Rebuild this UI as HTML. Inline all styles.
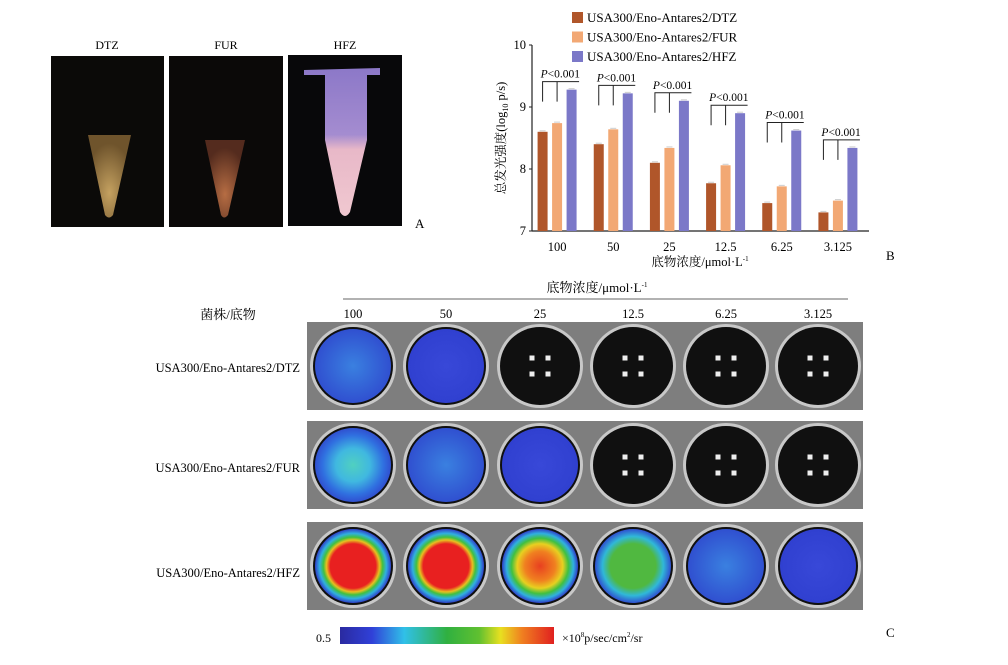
<!DOCTYPE html>
<html><head><meta charset="utf-8"><style>
body{margin:0;background:#fff;width:1008px;height:660px;overflow:hidden;font-family:"Liberation Serif","Noto Serif CJK SC",serif}
svg text{font-family:"Liberation Serif","Noto Serif CJK SC",serif}
</style></head><body>
<svg id="fig" width="1008" height="660" viewBox="0 0 1008 660">
<defs>
<radialGradient id="gD" cx="50%" cy="70%" r="60%"><stop offset="0" stop-color="#d9b26a"/><stop offset="1" stop-color="#7a5c30"/></radialGradient>
<radialGradient id="gF" cx="50%" cy="70%" r="60%"><stop offset="0" stop-color="#c9784a"/><stop offset="1" stop-color="#5c2f20"/></radialGradient>
<linearGradient id="gH" x1="0" y1="0" x2="0" y2="1"><stop offset="0" stop-color="#8c78c8"/><stop offset="0.45" stop-color="#a48cd0"/><stop offset="0.55" stop-color="#e8b8c8"/><stop offset="1" stop-color="#f0c8d0"/></linearGradient>
<linearGradient id="cbar" x1="0" y1="0" x2="1" y2="0"><stop offset="0" stop-color="#2a2aa0"/><stop offset="0.15" stop-color="#3040d8"/><stop offset="0.3" stop-color="#30c0e8"/><stop offset="0.5" stop-color="#30b040"/><stop offset="0.65" stop-color="#60c030"/><stop offset="0.75" stop-color="#e8e020"/><stop offset="0.85" stop-color="#f08020"/><stop offset="1" stop-color="#e02020"/></linearGradient>
<radialGradient id="wRed"><stop offset="0" stop-color="#e82020"/><stop offset="0.6" stop-color="#e82020"/><stop offset="0.7" stop-color="#e8c020"/><stop offset="0.78" stop-color="#40c040"/><stop offset="0.88" stop-color="#30b0e0"/><stop offset="1" stop-color="#3040c8"/></radialGradient>
<radialGradient id="wOr"><stop offset="0" stop-color="#e84020"/><stop offset="0.4" stop-color="#f08020"/><stop offset="0.6" stop-color="#e8d020"/><stop offset="0.75" stop-color="#40c040"/><stop offset="0.88" stop-color="#30b0e0"/><stop offset="1" stop-color="#3040c8"/></radialGradient>
<radialGradient id="wGr"><stop offset="0" stop-color="#50b840"/><stop offset="0.6" stop-color="#50b840"/><stop offset="0.8" stop-color="#30b8d8"/><stop offset="1" stop-color="#3050d0"/></radialGradient>
<radialGradient id="wCy"><stop offset="0" stop-color="#50d0c0"/><stop offset="0.45" stop-color="#40b8e0"/><stop offset="0.8" stop-color="#3070e0"/><stop offset="1" stop-color="#3050d0"/></radialGradient>
<radialGradient id="wLb"><stop offset="0" stop-color="#3a80e0"/><stop offset="1" stop-color="#3050d0"/></radialGradient>
<radialGradient id="wDb"><stop offset="0" stop-color="#3848d8"/><stop offset="1" stop-color="#3040d0"/></radialGradient>
</defs>

<g>
<text x="107" y="49" font-size="12" text-anchor="middle">DTZ</text>
<text x="226" y="49" font-size="12" text-anchor="middle">FUR</text>
<text x="345" y="49" font-size="12" text-anchor="middle">HFZ</text>
<rect x="51" y="56" width="113" height="171" fill="#0b0a08"/>
<path d="M88 135 L131 135 L113 215 Q109 220 105 215 Z" fill="url(#gD)" opacity="0.9"/>
<rect x="169" y="56" width="114" height="171" fill="#0b0908"/>
<path d="M205 140 L245 140 L228 215 Q224 220 221 215 Z" fill="url(#gF)" opacity="0.9"/>
<rect x="288" y="55" width="114" height="171" fill="#08080a"/>
<path d="M304 70 L380 68 L380 75 L367 75 L367 140 L350 212 Q345 220 340 212 L325 140 L325 75 L304 75 Z" fill="url(#gH)"/>
<text x="415" y="228" font-size="13">A</text>
</g>

<g id="chart"></g>
<text x="886" y="260" font-size="13">B</text>

<g id="plate">
<text x="228" y="319" font-size="13" text-anchor="middle">菌株/底物</text>
<text x="597" y="292" font-size="13" text-anchor="middle">底物浓度/μmol·L<tspan font-size="7" dy="-5">-1</tspan></text>
<line x1="343" y1="299" x2="848" y2="299" stroke="#333" stroke-width="0.8"/>
<text x="300" y="372" font-size="12.5" text-anchor="end">USA300/Eno-Antares2/DTZ</text>
<text x="300" y="472" font-size="12.5" text-anchor="end">USA300/Eno-Antares2/FUR</text>
<text x="300" y="577" font-size="12.5" text-anchor="end">USA300/Eno-Antares2/HFZ</text>
<text x="331" y="642" font-size="12" text-anchor="end">0.5</text>
<rect x="340" y="627" width="214" height="17" fill="url(#cbar)"/>
<text x="562" y="642" font-size="12">×10<tspan font-size="7" dy="-5">8</tspan><tspan dy="5">p/sec/cm</tspan><tspan font-size="7" dy="-5">2</tspan><tspan dy="5">/sr</tspan></text>
<text x="886" y="637" font-size="13">C</text>
</g>
</svg>
<script>
const NS="http://www.w3.org/2000/svg";
const categories=["100","50","25","12.5","6.25","3.125"];
const seriesNames=["USA300/Eno-Antares2/DTZ","USA300/Eno-Antares2/FUR","USA300/Eno-Antares2/HFZ"];
const dtz=[8.6,8.4,8.1,7.77,7.45,7.3];
const fur=[8.74,8.64,8.34,8.06,7.72,7.49];
const hfz=[9.28,9.22,9.1,8.9,8.62,8.34];
const yTicks=[7,8,9,10];
const pLabels=["P<0.001","P<0.001","P<0.001","P<0.001","P<0.001","P<0.001"];
const colors=["#b0562a","#f2a874","#7b78c8"];
function mk(t,a,p){const e=document.createElementNS(NS,t);for(const k in a)e.setAttribute(k,a[k]);(p||document.getElementById('chart')).appendChild(e);return e;}
const x0=532,x1=869,yTop=45,yBot=231;
const yS=v=>yBot-(v-7)/(10-7)*(yBot-yTop);
const gw=(x1-x0)/categories.length;
const xC=i=>x0+gw*(i+0.5)-3;
const bw=10;
let e=mk('line',{x1:x0,y1:yTop,x2:x0,y2:yBot,stroke:'#222','stroke-width':1.2});


e=mk('line',{x1:x0,y1:yBot,x2:x1,y2:yBot,stroke:'#222','stroke-width':1.2});


yTicks.forEach(t=>{mk('line',{x1:x0-3,y1:yS(t),x2:x0,y2:yS(t),stroke:'#222'});
 const tx=mk('text',{x:x0-6,y:yS(t)+4,'font-size':12.5,'text-anchor':'end'});tx.textContent=t;
 
 });
const ser=[dtz,fur,hfz];
categories.forEach((c,i)=>{
 const cx=xC(i);
 ser.forEach((s,j)=>{const bx=cx+(j-1)*14.5-bw/2;
  const r=mk('rect',{x:bx,y:yS(s[i]),width:bw,height:yBot-yS(s[i]),fill:colors[j]});
  
  
  mk('line',{x1:bx+2,y1:yS(s[i])-1,x2:bx+bw-2,y2:yS(s[i])-1,stroke:'#ccc','stroke-width':1});
 });
 const tl=mk('text',{x:cx,y:251,'font-size':12.5,'text-anchor':'middle'});tl.textContent=c;
 
 
 const by=yS(hfz[i])-8;
 const lx=cx-14.5,mx=cx,rx=cx+22;
 mk('path',{d:`M${lx} ${by+20}V${by}H${rx}M${mx} ${by}V${by+20}`,stroke:'#222',fill:'none','stroke-width':1});
 const pt=mk('text',{x:lx-2,y:by-4,'font-size':11.5});pt.innerHTML='<tspan font-style="italic">P</tspan>'+pLabels[i].slice(1).replace('<','&lt;');
 
 
});
const xt=mk('text',{x:700,y:266,'font-size':12.5,'text-anchor':'middle'});xt.innerHTML='底物浓度/μmol·L<tspan font-size="7" dy="-5">-1</tspan>';


const yt=mk('text',{x:0,y:0,'font-size':12.5,'text-anchor':'middle',transform:'translate(505,138) rotate(-90)'});yt.innerHTML='总发光强度(log<tspan font-size="8" dy="3">10</tspan><tspan dy="-3"> p/s)</tspan>';


seriesNames.forEach((n,j)=>{const ly=18+j*19.5;
 const sw=mk('rect',{x:572,y:ly-6,width:11,height:11,fill:colors[j]});
 
 
 const lt=mk('text',{x:587,y:ly+4,'font-size':13});lt.textContent=n;
 
 });

const plate=document.getElementById('plate');
const rowY=[366,465,566];
const rowTop=[322,421,522];
const wellX=[353,446,540,633,726,818];
const wellFills=[["wLb","wDb",null,null,null,null],["wCy","wLb","wDb",null,null,null],["wRed","wRed","wOr","wGr","wLb","wDb"]];
rowY.forEach((ry,r)=>{
 const bg=mk('rect',{x:307,y:rowTop[r],width:556,height:88,fill:'#7e7e7e'},plate);
 
 
 wellX.forEach((wx,k)=>{
  mk('ellipse',{cx:wx,cy:ry,rx:43,ry:42,fill:'#c8c8c8'},plate);
  mk('ellipse',{cx:wx,cy:ry,rx:40,ry:39,fill:'#101010'},plate);
  const f=wellFills[r][k];
  if(f){const w=mk('ellipse',{cx:wx,cy:ry,rx:38,ry:37,fill:'url(#'+f+')'},plate);
   
   }
  else{[[-8,-8],[8,-8],[-8,8],[8,8]].forEach(d=>mk('rect',{x:wx+d[0]-2.5,y:ry+d[1]-2.5,width:5,height:5,fill:'#eee'},plate));}
 });
});
categories.forEach((c,k)=>{const t=mk('text',{x:wellX[k],y:318,'font-size':12.5,'text-anchor':'middle'},plate);t.textContent=c;
 
 });
</script>
</body></html>
